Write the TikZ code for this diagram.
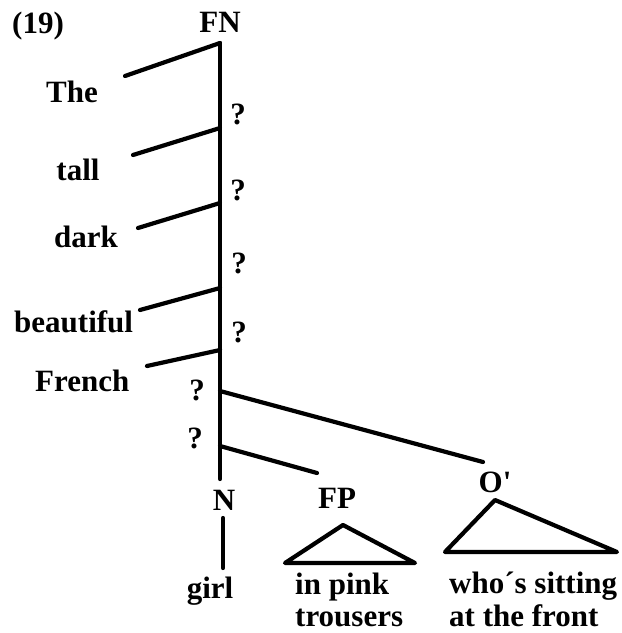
\documentclass[tikz,border=0pt]{standalone}
\usepackage{fontspec}
\setmainfont{Liberation Serif}[Ligatures=TeXOff]
\begin{document}
\begin{tikzpicture}[x=1pt,y=-1pt,
  lbl/.style={inner sep=0pt, anchor=base, font=\fontsize{31}{33}\selectfont\bfseries},
  lblw/.style={lbl, anchor=base west},
  br/.style={line width=4.2pt, line cap=round, line join=round}]
\useasboundingbox (0,0) rectangle (622,633);

% labels
\node[lblw] (num) at (12,33) {(19)};
\node[lbl] (fn) at (220,32) {FN};
\node[lbl] (the) at (72,102) {The};
\node[lbl] (tall) at (78,180) {tall};
\node[lbl] (dark) at (86,247) {dark};
\node[lblw] (beautiful) at (14,332) {beautiful};
\node[lblw] (french) at (35,391) {French};
\node[lbl] (q1) at (238,124) {?};
\node[lbl] (q2) at (238,200) {?};
\node[lbl] (q3) at (239,273) {?};
\node[lbl] (q4) at (239,342) {?};
\node[lbl] (q5) at (197,400) {?};
\node[lbl] (q6) at (195,448) {?};
\node[lbl] (n) at (224,510) {N};
\node[lbl] (fp) at (337,508) {FP};
\node[lbl] (o) at (495,492) {O'};
\node[lbl] (girl) at (210,598) {girl};
\node[lblw] (inpink) at (295,594) {in pink};
\node[lblw] (trousers) at (295,626) {trousers};
\node[lblw] (who) at (449,593) {who´s sitting};
\node[lblw] (front) at (449,626) {at the front};

% spine points
\coordinate (s0) at (220,43);
\coordinate (s1) at (220,128);
\coordinate (s2) at (220,203);
\coordinate (s3) at (220,288);
\coordinate (s4) at (220,350);
\coordinate (s5) at (220,391);
\coordinate (s6) at (220,446);
\coordinate (s7) at (220,479);

% branch ends
\coordinate (e0) at (125,76);
\coordinate (e1) at (133,155);
\coordinate (e2) at (138,228);
\coordinate (e3) at (140,310);
\coordinate (e4) at (147,366);
\coordinate (eo) at (483,462);
\coordinate (efp) at (317,473);
\coordinate (ntop) at (223,518);
\coordinate (nbot) at (223,568);

% triangles
\coordinate (fpa) at (343,525);
\coordinate (fpl) at (285,563);
\coordinate (fpr) at (415,563);
\coordinate (oa) at (495,500);
\coordinate (ol) at (445,552);
\coordinate (or) at (617,552);

\draw[br] (s0) -- (s7);
\draw[br] (s0) -- (e0);
\draw[br] (s1) -- (e1);
\draw[br] (s2) -- (e2);
\draw[br] (s3) -- (e3);
\draw[br] (s4) -- (e4);
\draw[br] (s5) -- (eo);
\draw[br] (s6) -- (efp);
\draw[br] (ntop) -- (nbot);
\draw[br] (fpa) -- (fpl) -- (fpr) -- cycle;
\draw[br] (oa) -- (ol) -- (or) -- cycle;
\end{tikzpicture}
\end{document}
